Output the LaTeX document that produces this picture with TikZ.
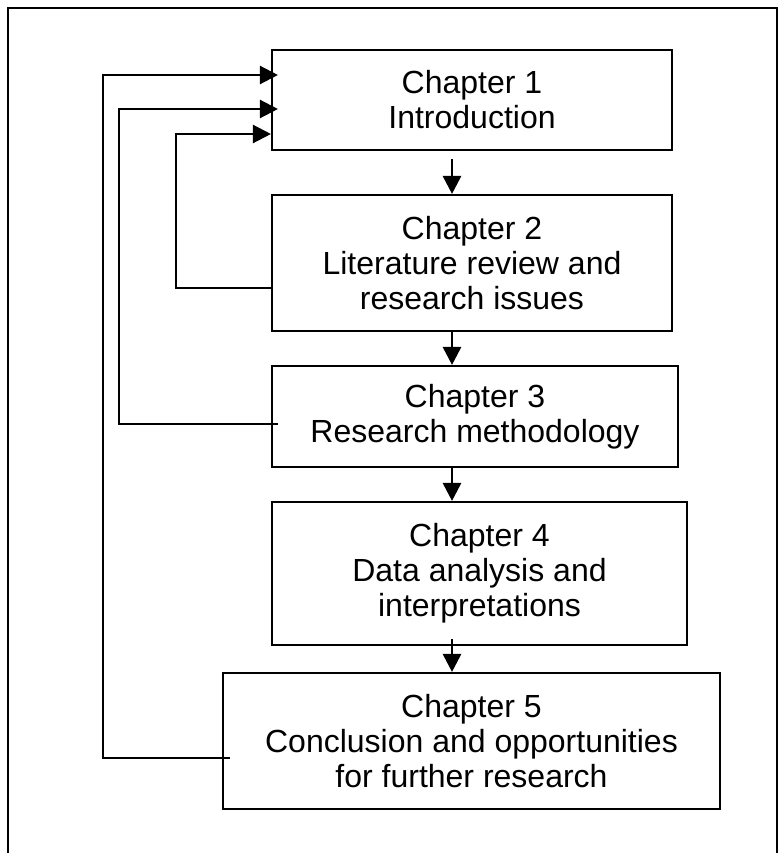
\documentclass[tikz,border=0pt]{standalone}
\usepackage{fontspec}
\setmainfont{Liberation Sans}
\usetikzlibrary{arrows.meta,calc}

\tikzset{
  chapbox/.style={draw, line width=2.1pt, rectangle, inner sep=0pt, align=center,
    font=\fontsize{32}{35}\selectfont},
  flow/.style={line width=2.8pt, -{Triangle[length=18pt,width=18pt]}},
  back/.style={line width=2.3pt, -{Triangle[length=18pt,width=18pt]}},
}

\begin{document}
\begin{tikzpicture}[x=1pt,y=1pt]
  \clip (0,0) rectangle (778,-853);
  % outer frame
  \draw[line width=2.4pt] (8,-8) rectangle (777,-880);

  % chapter boxes
  \node[chapbox, minimum width=400pt, minimum height=100pt] (b1) at (472,-100)
    {Chapter 1\\Introduction};
  \node[chapbox, minimum width=400pt, minimum height=136pt] (b2) at (472,-263)
    {Chapter 2\\Literature review and\\research issues};
  \node[chapbox, minimum width=406pt, minimum height=101pt] (b3) at (475,-416.5)
    {Chapter 3\\Research methodology};
  \node[chapbox, minimum width=415pt, minimum height=143pt] (b4) at (479.5,-573.5)
    {Chapter 4\\Data analysis and\\interpretations};
  \node[chapbox, minimum width=497pt, minimum height=136pt] (b5) at (471.5,-741)
    {Chapter 5\\Conclusion and opportunities\\for further research};

  % columns used by the connectors
  \coordinate (mid) at (452,0);
  \coordinate (la) at (103,0);
  \coordinate (lb) at (119,0);
  \coordinate (lc) at (176,0);

  % main sequence
  \draw[flow] ([yshift=-8pt]b1.south -| mid) -- (b2.north -| mid);
  \draw[flow] (b2.south -| mid) -- (b3.north -| mid);
  \draw[flow] (b3.south -| mid) -- (b4.north -| mid);
  \draw[flow] ([yshift=7pt]b4.south -| mid) -- (b5.north -| mid);

  % feedback loops to chapter 1
  \draw[back] ([shift={(8pt,-17pt)}]b5.west) -| ([yshift=25pt]b1.west -| la)
    -- ([shift={(7pt,25pt)}]b1.west);
  \draw[back] ([shift={(7pt,-7.5pt)}]b3.west) -| ([yshift=-9pt]b1.west -| lb)
    -- ([shift={(7pt,-9pt)}]b1.west);
  \draw[back] ([yshift=-25pt]b2.west) -| ([yshift=-34pt]b1.west -| lc)
    -- ([yshift=-34pt]b1.west);
\end{tikzpicture}
\end{document}
